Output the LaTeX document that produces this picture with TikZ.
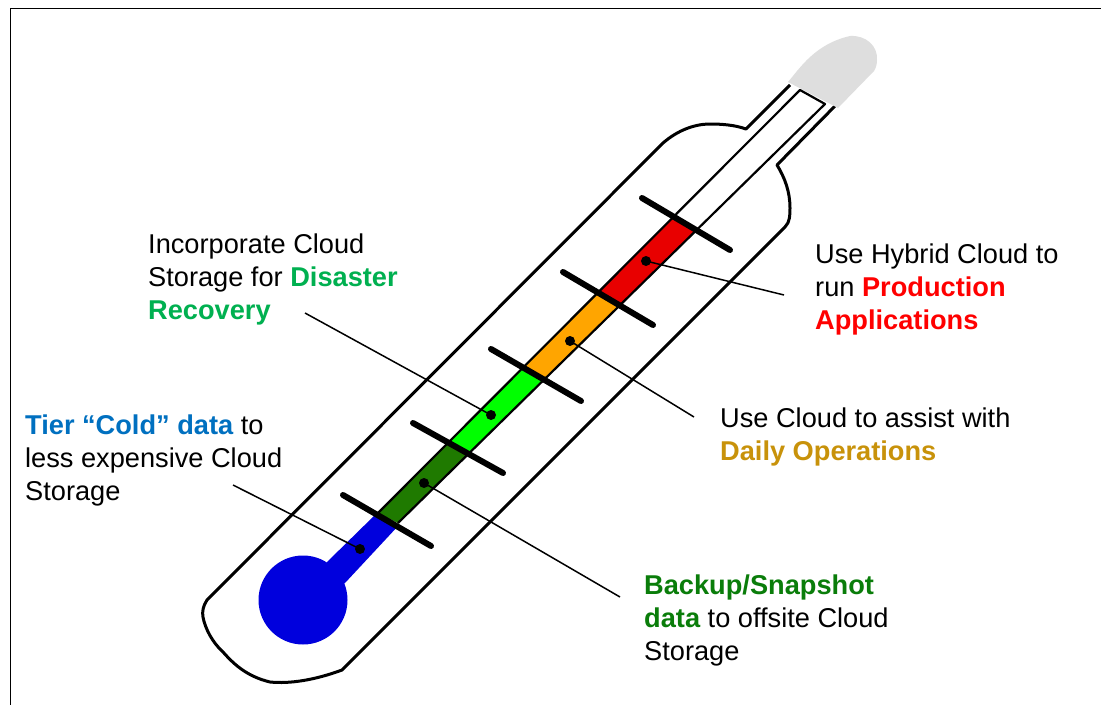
\documentclass[tikz,border=0pt]{standalone}
\usepackage{fontspec}
\setmainfont{Liberation Sans}
\definecolor{cblue}{HTML}{0000DD}
\definecolor{cdgreen}{HTML}{1F7A00}
\definecolor{cgreen}{HTML}{00FF00}
\definecolor{corange}{HTML}{FFA500}
\definecolor{cred}{HTML}{E80000}
\definecolor{cgray}{HTML}{DEDEDE}
\definecolor{tgreen}{HTML}{00B050}
\definecolor{tblue}{HTML}{0070C0}
\definecolor{tgold}{HTML}{C8920A}
\definecolor{tdgreen}{HTML}{0A7D0A}
\begin{document}
\begin{tikzpicture}[x=1pt,y=-1pt,line join=round,
  outline/.style={draw=black,line width=3pt},
  tube/.style={draw=black,line width=2.2pt},
  tick/.style={draw=black,line width=6pt,line cap=round},
  dotmark/.style={circle,fill=black,inner sep=0pt,minimum size=10pt},
  leader/.style={draw=black,line width=1.5pt},
  label/.style={anchor=west,align=left,inner sep=0pt,font=\fontsize{27.2}{33}\selectfont},
]
\useasboundingbox (0,0) rectangle (1101,705);
\fill[white] (0,0) rectangle (1101,705);
\draw[line width=1.5pt] (1101,8.5) -- (10.5,8.5) -- (10.5,705);
% body
\draw[outline] (790,85) -- (746,129) .. controls (735,125) and (722,124) .. (710,124)
  .. controls (695,124) and (678,130) .. (663,143)
  -- (207,600) .. controls (203,606) and (202,612) .. (203,617)
  .. controls (205,628) and (212,642) .. (223,652)
  .. controls (232,662) and (245,676) .. (270,682)
  .. controls (290,684) and (315,680) .. (342,670)
  -- (785,227) .. controls (790,222) and (790,215) .. (790,208)
  .. controls (790,192) and (785,178) .. (777,165) -- (835,106);
% cap
\fill[cgray] (788,82) .. controls (800,68) and (815,44) .. (850,36)
  .. controls (866,35) and (878,46) .. (877,60)
  .. controls (877,64) and (876,68) .. (874,71) -- (838,108) -- cycle;
% colour fills
\fill[cblue] (303,600) circle (44.5);
\fill[cblue] (327,562) -- (377,513) -- (399,525) -- (345,583) -- (320,600) -- cycle;
\fill[cdgreen] (378,513) -- (448.3,442.6) -- (468.6,454) -- (398,523) -- cycle;
\fill[cgreen] (448.3,442.6) -- (523.2,367.8) -- (544,379.9) -- (468.6,454) -- cycle;
\fill[corange] (523.2,367.8) -- (598.2,292.8) -- (619.8,305.4) -- (544,379.9) -- cycle;
\fill[cred] (598.2,292.8) -- (674,217) -- (696,230) -- (619.8,305.4) -- cycle;
% inner tube
\draw[tube] (378,513) -- (800,90) -- (825,104) -- (398,523);
% ticks
\draw[tick] (343,495) -- (431,546);
\draw[tick] (413,423) -- (503,473);
\draw[tick] (491,349) -- (581,401);
\draw[tick] (563,272) -- (653,325);
\draw[tick] (642,198) -- (730,250);
% dots
\node[dotmark] (d1) at (360,549) {};
\node[dotmark] (d2) at (424,483) {};
\node[dotmark] (d3) at (491,415) {};
\node[dotmark] (d4) at (570,341) {};
\node[dotmark] (d5) at (646,261) {};
\coordinate (e1) at (233,485);
\coordinate (e2) at (620,597);
\coordinate (e3) at (305,313);
\coordinate (e4) at (694,417);
\coordinate (e5) at (784,295);
\draw[leader] (e1) -- (d1.center);
\draw[leader] (e2) -- (d2.center);
\draw[leader] (e3) -- (d3.center);
\draw[leader] (e4) -- (d4.center);
\draw[leader] (e5) -- (d5.center);
% labels
\node[label] (t3) at (148,279) {Incorporate Cloud\\Storage for \textcolor{tgreen}{\bfseries Disaster}\\\textcolor{tgreen}{\bfseries Recovery}};
\node[label] (t1) at (25,460) {\textcolor{tblue}{\bfseries Tier “Cold” data} to\\less expensive Cloud\\Storage};
\node[label] (t5) at (815,289) {Use Hybrid Cloud to\\run \textcolor{red}{\bfseries Production}\\\textcolor{red}{\bfseries Applications}};
\node[label] (t4) at (720,436.5) {Use Cloud to assist with\\\textcolor{tgold}{\bfseries Daily Operations}};
\node[label] (t2) at (644,620) {\textcolor{tdgreen}{\bfseries Backup/Snapshot}\\\textcolor{tdgreen}{\bfseries data} to offsite Cloud\\Storage};
\end{tikzpicture}
\end{document}
